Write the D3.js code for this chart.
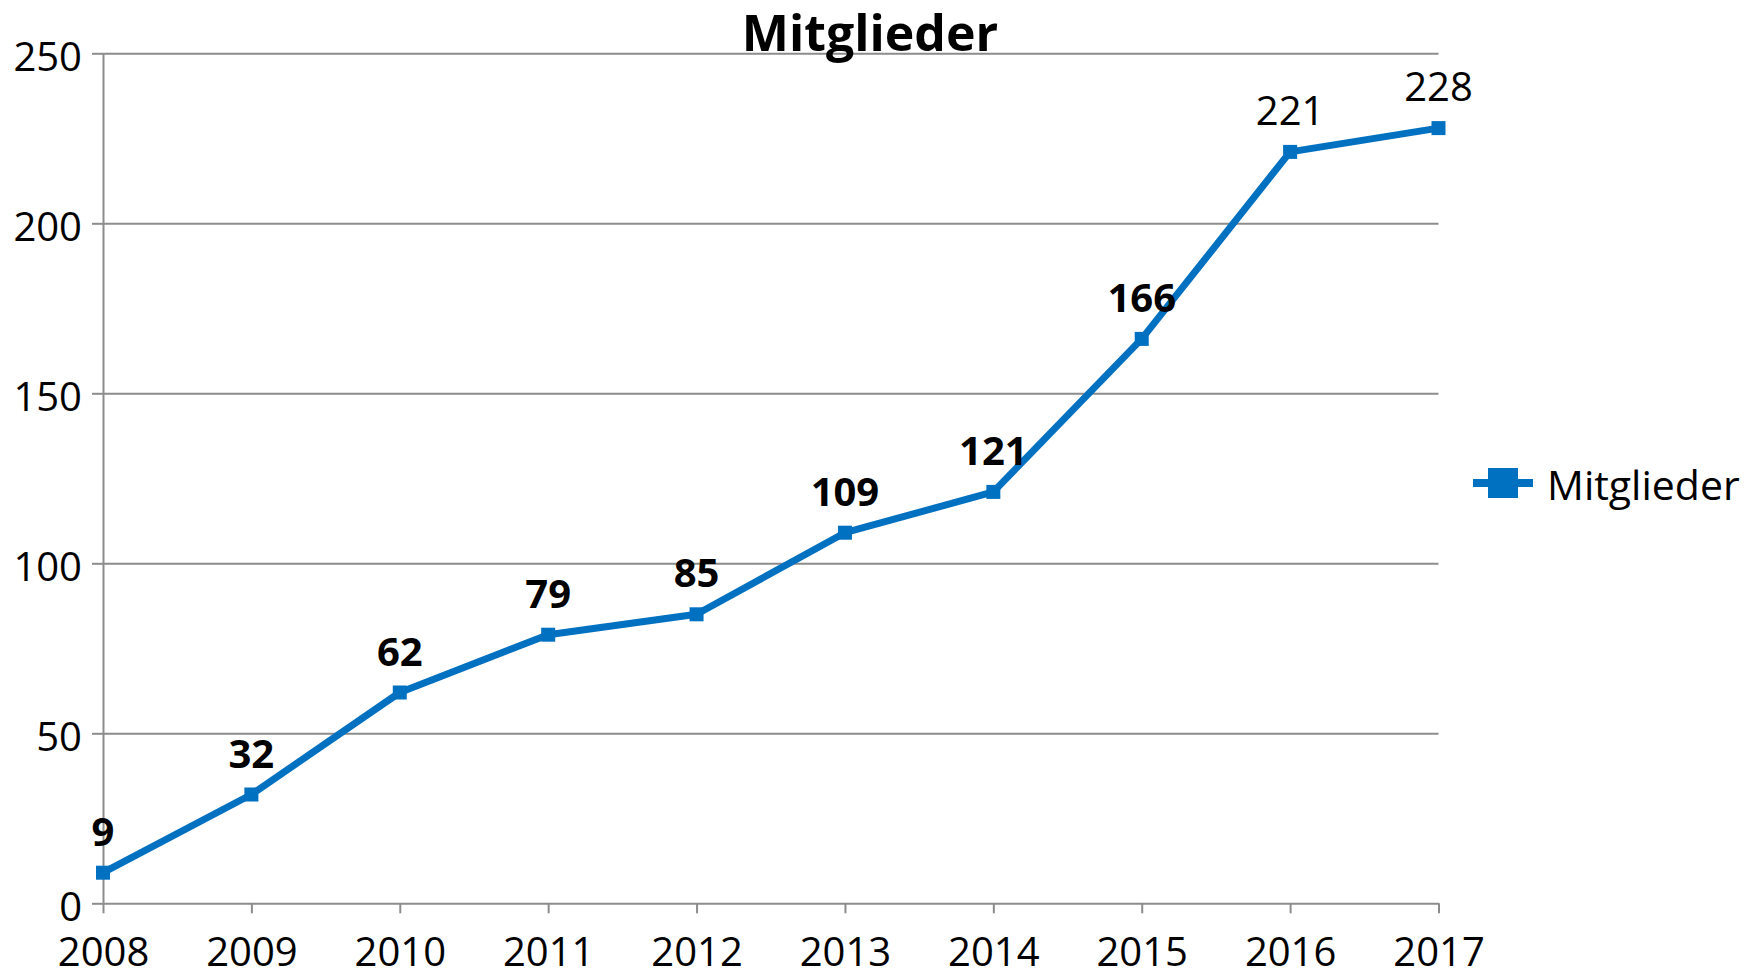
<!DOCTYPE html>
<meta charset="utf-8">
<head>
  <title>Mitglieder</title>
</head>

<style>
body { margin: 0; background: #fff; }
text { font-family: "Open Sans", "Noto Sans", sans-serif; fill: #000; }
.axis path, .axis line { stroke: #8c8c8c; stroke-width: 2px; }
.grid line { stroke: #8c8c8c; stroke-width: 2px; }
.grid path { display: none; }
</style>

<body>
  <svg width="1756" height="973"></svg>

  <script src="https://cdnjs.cloudflare.com/ajax/libs/d3/7.8.5/d3.min.js"></script>
  <script>
// data
var years = ['2008', '2009', '2010', '2011', '2012', '2013', '2014', '2015', '2016', '2017']
var members = [9, 32, 62, 79, 85, 109, 121, 166, 221, 228]
// labels shown in bold (all but the last two)
var boldLabel = [true, true, true, true, true, true, true, true, false, false]
var yTicks = [0, 50, 100, 150, 200, 250]

var blue = '#0070c0'
// plot box (window.top is read-only, so no "top" here)
var plotL = 103, plotR = 1438.5, plotT = 53.3, plotB = 903.3

var svg = d3.select('svg')

var x = d3.scalePoint().domain(years).range([plotL, plotR])
var y = d3.scaleLinear().domain([0, 250]).range([plotB, plotT])

// horizontal grid lines
svg.append('g')
  .attr('class', 'grid')
  .attr('transform', 'translate(' + plotL + ',0)')
  .call(d3.axisRight(y).tickValues(yTicks.slice(1)).tickSize(plotR - plotL).tickFormat(''))

// y axis
var ya = svg.append('g')
  .attr('class', 'axis')
  .attr('transform', 'translate(' + plotL + ',0)')
  .call(d3.axisLeft(y).tickValues(yTicks).tickSize(11).tickSizeOuter(0).tickPadding(10))
ya.selectAll('text')
  .attr('font-size', 40)
  .attr('dy', '0.42em')

// x axis
var xa = svg.append('g')
  .attr('class', 'axis')
  .attr('transform', 'translate(0,' + plotB + ')')
  .call(d3.axisBottom(x).tickSize(10).tickSizeOuter(0).tickPadding(0))
xa.selectAll('text')
  .attr('font-size', 40)
  .attr('y', 63)
  .attr('dy', 0)

// line
var line = d3.line()
  .x(function(d, i) { return x(years[i]) })
  .y(function(d) { return y(d) })

svg.append('path')
  .datum(members)
  .attr('d', line)
  .attr('fill', 'none')
  .attr('stroke', blue)
  .attr('stroke-width', 7)
  .attr('stroke-linejoin', 'round')

// markers
svg.selectAll('rect.marker')
  .data(members)
  .enter()
  .append('rect')
  .attr('class', 'marker')
  .attr('x', function(d, i) { return x(years[i]) - 7 })
  .attr('y', function(d) { return y(d) - 7 })
  .attr('width', 14)
  .attr('height', 14)
  .attr('fill', blue)

// data labels
svg.selectAll('text.label')
  .data(members)
  .enter()
  .append('text')
  .attr('class', 'label')
  .attr('x', function(d, i) { return x(years[i]) })
  .attr('y', function(d) { return y(d) - 27 })
  .attr('text-anchor', 'middle')
  .attr('font-size', 40)
  .attr('font-weight', function(d, i) { return boldLabel[i] ? 'bold' : 'normal' })
  .text(function(d) { return d })

// title
svg.append('text')
  .attr('x', 870)
  .attr('y', 51)
  .attr('text-anchor', 'middle')
  .attr('font-size', 50)
  .attr('font-weight', 'bold')
  .text('Mitglieder')

// legend
var lg = svg.append('g').attr('transform', 'translate(1473,483)')
lg.append('line')
  .attr('x1', 0).attr('x2', 60)
  .attr('stroke', blue)
  .attr('stroke-width', 8)
lg.append('rect')
  .attr('x', 15).attr('y', -15)
  .attr('width', 30).attr('height', 30)
  .attr('fill', blue)
lg.append('text')
  .attr('x', 74)
  .attr('y', 17)
  .attr('font-size', 41)
  .text('Mitglieder')
  </script>
</body>
</html>
